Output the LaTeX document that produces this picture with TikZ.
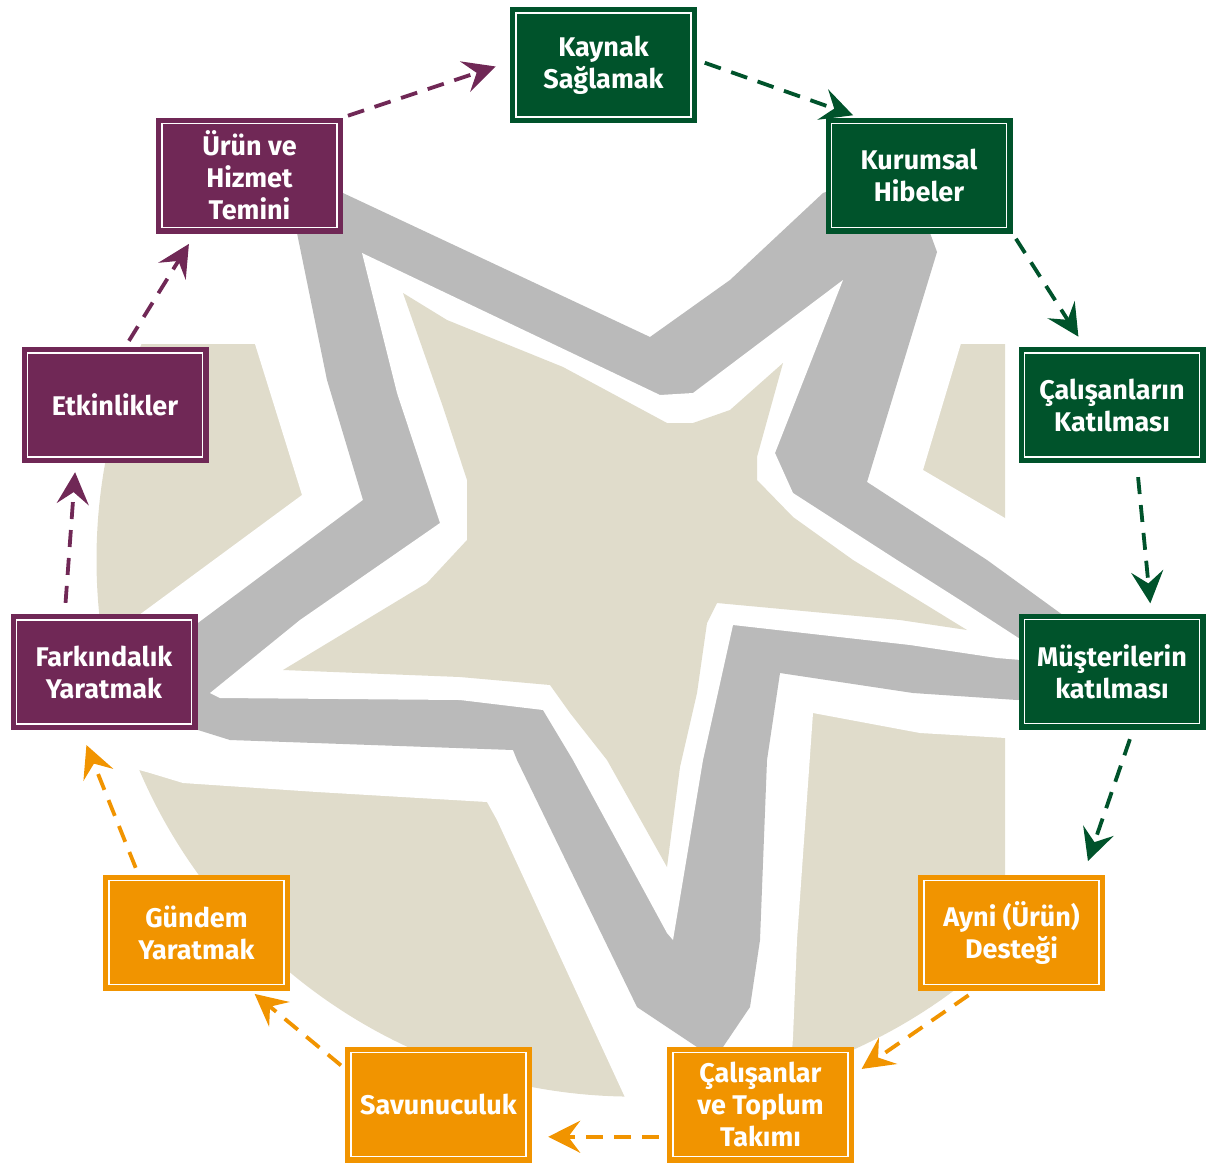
\documentclass[tikz,border=0pt]{standalone}
\usepackage{fontspec}
\setmainfont{Fira Sans}
\usetikzlibrary{arrows.meta}
\definecolor{dgreen}{HTML}{00532B}
\definecolor{dpurple}{HTML}{702856}
\definecolor{dorange}{HTML}{F19400}
\definecolor{sgray}{HTML}{BABABA}
\definecolor{sbeige}{HTML}{E0DCCB}
\tikzset{
  box/.style={rectangle, fill=#1, minimum width=187pt, minimum height=116pt, inner sep=0pt,
    text=white, align=center, font=\bfseries\fontsize{27}{32}\selectfont,
    path picture={\draw[white, line width=1.6pt]
      ([shift={(6pt,6pt)}]path picture bounding box.south west) rectangle
      ([shift={(-6pt,-6pt)}]path picture bounding box.north east);}},
  arr/.style={draw=#1, line width=3.8pt, dash pattern=on 17pt off 11pt,
    -{Stealth[length=32pt,width=32pt,inset=12pt,fill=#1]}}
}
\begin{document}
\begin{tikzpicture}[x=1pt,y=-1pt]
\useasboundingbox (0,0) rectangle (1214,1162);
% background disc
\begin{scope}
\clip (0,344) rectangle (1005,1200);
\fill[sbeige] (633.5,559.6) circle[radius=537];
\end{scope}
% outer white star
\fill[white] (195,150) -- (650,300) -- (1040,80) -- (923,470) -- (1150,603) -- (1150,745) -- (1006,738) -- (920,733) -- (813,713) -- (797,940) -- (793,1037) -- (784,1180) -- (663,1180) -- (623,1093) -- (497,820) -- (487,802) -- (317,792) -- (183,783) -- (150,773) -- (60,748) -- (60,673) -- (150,607) -- (302,495) -- (255,344) -- cycle;
% gray star
\fill[sgray] (280,163) -- (343,193) -- (650,337) -- (730,280) -- (823,193) -- (910,160) -- (930,233) -- (937,252) -- (867,482) -- (987,560) -- (1060,613) -- (1150,680) -- (1017,700) -- (913,693) -- (780,673) -- (767,760) -- (760,940) -- (750,1007) -- (723,1047) -- (697,1047) -- (637,1007) -- (517,760) -- (513,750) -- (230,740) -- (198,730) -- (150,680) -- (198,623) -- (363,500) -- (327,380) -- (297,233) -- cycle;
% inner white star
\fill[white] (362,253) -- (660,395) -- (693,393) -- (843,280) -- (775,453) -- (793,493) -- (897,560) -- (960,600) -- (1057,663) -- (997,658) -- (910,645) -- (733,625) -- (703,760) -- (673,940) -- (667,933) -- (573,760) -- (543,710) -- (460,700) -- (220,698) -- (210,693) -- (300,620) -- (440,523) -- (397,393) -- cycle;
% beige star
\fill[sbeige] (403,293) -- (447,320) -- (563,367) -- (667,423) -- (693,423) -- (730,410) -- (783,363) -- (757,457) -- (757,480) -- (793,517) -- (853,560) -- (967,630) -- (900,620) -- (717,603) -- (707,623) -- (697,693) -- (680,767) -- (667,867) -- (607,760) -- (570,713) -- (550,685) -- (460,677) -- (283,670) -- (427,583) -- (467,540) -- (467,480) -- (443,407) -- cycle;
% boxes
\node[box=dgreen] (k) at (603.5,65) {Kaynak\\Sağlamak};
\node[box=dgreen] (kh) at (919,175.5) {Kurumsal\\Hibeler};
\node[box=dgreen] (ck) at (1112,405) {Çalışanların\\Katılması};
\node[box=dgreen] (mk) at (1112,671.5) {Müşterilerin\\katılması};
\node[box=dorange] (ay) at (1011.5,932.5) {Ayni (Ürün)\\Desteği};
\node[box=dorange] (cl) at (760.5,1104.5) {Çalışanlar\\ve Toplum\\Takımı};
\node[box=dorange] (sv) at (438.5,1104.5) {Savunuculuk};
\node[box=dorange] (gd) at (196.5,932.5) {Gündem\\Yaratmak};
\node[box=dpurple] (fk) at (104,672) {Farkındalık\\Yaratmak};
\node[box=dpurple] (et) at (115,405) {Etkinlikler};
\node[box=dpurple] (ur) at (249.5,175.5) {Ürün ve\\Hizmet\\Temini};
% arrows
\draw[arr=dpurple, shorten <=5pt, shorten >=15pt] (ur.north east) -- (k.178);
\draw[arr=dgreen, shorten <=8pt, shorten >=6pt] (k.3) -- (kh.136);
\draw[arr=dgreen, shorten <=6pt, shorten >=12pt] (kh.south east) -- (ck.115);
\draw[arr=dgreen, shorten <=14pt, shorten >=10pt] (ck.-67) -- (mk.56);
\draw[arr=dgreen, shorten <=10pt, shorten >=14pt] (mk.-70) -- (ay.39);
\draw[arr=dorange, shorten <=8pt, shorten >=9pt] (ay.-122) -- (cl.18);
\draw[arr=dorange, shorten <=8pt, shorten >=16pt] (cl.-161) -- (sv.-19);
\draw[arr=dorange, shorten <=5pt, shorten >=5pt] (sv.159) -- (gd.-47);
\draw[arr=dorange, shorten <=7pt, shorten >=16pt] (gd.135) -- (fk.-112);
\draw[arr=dpurple, shorten <=11pt, shorten >=9pt] (fk.124) -- (et.-124);
\draw[arr=dpurple, shorten <=7pt, shorten >=12pt] (et.80) -- (ur.-133);
\end{tikzpicture}
\end{document}
